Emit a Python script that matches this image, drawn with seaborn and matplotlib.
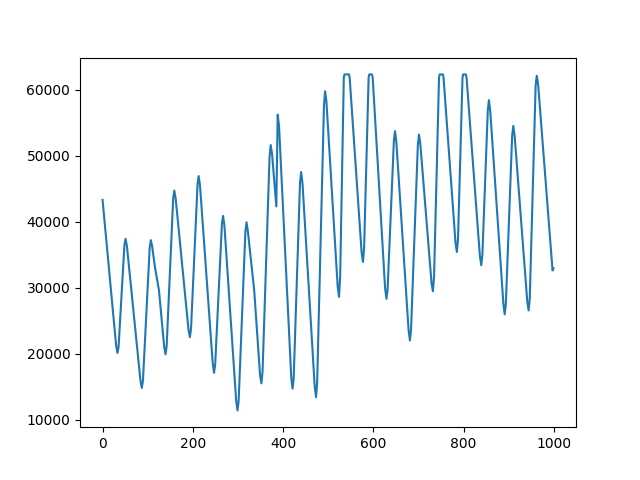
"""
Single line series, default matplotlib look, drawn with seaborn
"""

import matplotlib
matplotlib.use("Agg")
import matplotlib.pyplot as plt
import seaborn as sns
import pandas as pd

# Sample positions and values (peaks, troughs, shoulders)
step = [
    0, 30, 33, 35.5, 48.5, 51, 54, 84, 87, 89.5,
    104.5, 107, 110, 116, 125, 136.5, 139.5, 142, 156.5, 159,
    162, 190.5, 193.5, 196, 210.5, 213, 216, 244, 247, 249.5,
    264.5, 267, 270, 296, 299, 301.5, 316.5, 319, 322, 336,
    349, 352, 354.5, 370, 372.5, 375.5, 385, 388, 391, 418,
    421, 423.5, 437.5, 440, 443, 470, 473, 475.5, 490.5, 493,
    496, 521, 524, 526.5, 534.5, 536, 546, 547.5, 574, 577,
    579.5, 589.5, 591, 597, 598.5, 626, 629, 631.5, 645.5, 648,
    651, 678, 681, 683.5, 698.5, 701, 704, 729, 732, 734.5,
    745.5, 747, 754, 755.5, 782, 785, 787.5, 797.5, 799, 805,
    806.5, 836, 839, 841.5, 853.5, 856, 859, 888, 891, 893.5,
    907.5, 910, 913, 941, 944, 946.5, 959.5, 962, 965, 997,
    999,
]
value = [
    43300, 21300, 20100, 21000, 36500, 37400, 36300, 15900, 14800, 15900,
    36100, 37200, 36200, 33150, 29600, 21100, 19900, 21100, 43500, 44700,
    43500, 23600, 22500, 23700, 45700, 46900, 45400, 18600, 17100, 18300,
    39700, 40850, 39400, 12900, 11400, 12800, 38500, 39900, 38500, 29600,
    16700, 15500, 17300, 49800, 51600, 50300, 42300, 56200, 54500, 16500,
    14700, 16300, 45900, 47500, 45800, 15100, 13400, 15700, 57500, 59750,
    58200, 30100, 28600, 31800, 61800, 62300, 62300, 61800, 35300, 33900,
    36000, 61800, 62300, 62300, 61800, 29900, 28300, 29700, 52300, 53700,
    52000, 23600, 22000, 23700, 51500, 53200, 51800, 30600, 29450, 31700,
    61800, 62300, 62300, 61800, 36800, 35400, 37300, 61800, 62300, 62300,
    61800, 34800, 33400, 34900, 56800, 58400, 56700, 27600, 25950, 27500,
    53000, 54500, 53000, 27900, 26550, 28300, 60600, 62100, 60800, 32600,
    32900,
]

df = pd.DataFrame({"step": step, "value": value})

fig, ax = plt.subplots(figsize=(6.4, 4.8), dpi=100)
sns.lineplot(data=df, x="step", y="value", color="#1f77b4", linewidth=1.5, ax=ax)
ax.set_xlabel("")
ax.set_ylabel("")

plt.savefig("out.png", dpi=100)
plt.close()
